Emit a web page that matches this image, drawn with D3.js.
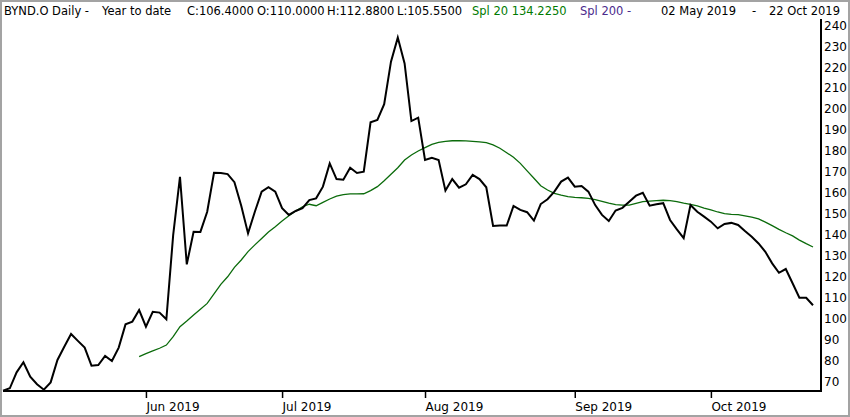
<!DOCTYPE html>
<html>
<head>
<meta charset="utf-8">
<script src="https://cdn.jsdelivr.net/npm/d3@7"></script>
<style>
  body { margin: 0; background: #fff; }
  svg { display: block; font-family: "DejaVu Sans", Verdana, sans-serif; }
</style>
</head>
<body>
<div id="chart"></div>
<script>
// daily closes, one per trading day, 02 May 2019 .. 22 Oct 2019
const close = [
  65.7, 66.8, 74.4, 79.2, 72.3, 68.7, 66.1, 69.6, 80.3, 86.6,
  92.7, 89.4, 86.2, 77.6, 77.9, 82.2, 79.8, 86.2, 97.3, 98.6,
  104.1, 96.2, 103.3, 102.9, 99.7, 139.9, 167.7, 125.9, 141.5, 141.4,
  151.0, 169.6, 169.5, 169.0, 165.1, 153.9, 140.7, 151.0, 160.6, 162.7,
  160.6, 152.7, 149.5, 151.4, 152.7, 156.6, 157.4, 163.0, 174.1, 166.6,
  166.3, 172.0, 169.5, 170.1, 193.7, 194.8, 202.3, 222.6, 234.1, 221.8,
  194.3, 195.9, 175.7, 176.8, 175.7, 161.1, 166.6, 162.5, 164.1, 168.6,
  166.6, 162.7, 144.2, 144.4, 144.4, 153.8, 151.9, 150.8, 146.8, 154.7,
  157.0, 160.6, 165.4, 167.3, 163.0, 163.3, 160.6, 154.2, 149.5, 146.6,
  151.6, 152.9, 155.8, 158.7, 160.1, 153.9, 154.6, 155.1, 147.1, 142.6,
  138.4, 154.2, 151.0, 148.7, 146.3, 143.1, 145.2, 145.7, 144.7, 141.8,
  139.1, 135.9, 131.9, 126.4, 121.9, 123.7, 116.9, 110.0, 110.0, 106.4
];

// Spl 20 line, starts at trading day 20
const smaStart = 20;
const sma20 = [
  81.9, 83.3, 84.6, 85.9, 87.4, 91.4, 96.2, 98.9, 101.8, 104.5,
  107.3, 111.8, 116.4, 120.0, 124.5, 128.0, 132.0, 135.2, 138.3, 141.4,
  143.9, 146.6, 149.1, 151.4, 153.4, 154.6, 153.9, 155.5, 157.1, 158.5,
  159.2, 159.5, 159.5, 159.6, 161.1, 163.0, 165.8, 168.9, 172.0, 175.7,
  178.1, 180.0, 181.6, 183.2, 184.1, 184.6, 184.9, 184.9, 184.8, 184.6,
  184.4, 184.0, 182.9, 181.3, 179.2, 177.0, 174.1, 170.5, 167.0, 163.4,
  161.4, 159.8, 158.9, 158.2, 157.9, 157.7, 157.4, 156.8, 156.0, 155.1,
  154.4, 154.2, 154.2, 155.0, 155.8, 156.1, 156.3, 156.5, 156.3, 155.8,
  155.1, 154.5, 153.8, 152.8, 151.9, 150.9, 150.1, 149.8, 149.6, 149.1,
  148.5, 147.6, 146.1, 144.4, 142.6, 141.0, 139.5, 137.5, 135.8, 134.2
];

// month ticks: trading-day index of first session of each month
const monthIdx = [21, 41, 62, 84, 104];
const monthLabels = ["Jun 2019", "Jul 2019", "Aug 2019", "Sep 2019", "Oct 2019"];

const yTicks = [70, 80, 90, 100, 110, 120, 130, 140, 150, 160, 170, 180, 190, 200, 210, 220, 230, 240];

// header readout
const ohlcKeys = ["C", "O", "H", "L"];
const ohlcVals = [106.4, 110.0, 112.88, 105.55];
const splLast = 134.225;

const width = 850;
const height = 417;
const plot = { left: 3, right: 821, top: 19, bottom: 391 };

const x = d3.scaleLinear()
  .domain([0, close.length - 1])
  .range([3, 813]);

const y = d3.scaleLinear()
  .domain([65.5, 242.5])
  .range([plot.bottom, 20]);

const svg = d3.select("#chart")
  .append("svg")
  .attr("width", width)
  .attr("height", height)
  .attr("viewBox", [0, 0, width, height]);

svg.append("rect")
  .attr("x", 1).attr("y", 1)
  .attr("width", width - 2).attr("height", height - 2)
  .attr("fill", "#fff")
  .attr("stroke", "#a3a3a3")
  .attr("stroke-width", 2);

// header
const header = svg.append("g").attr("font-size", "11.5px");
const hy = 15;
header.append("text").attr("x", 4).attr("y", hy).text("BYND.O Daily -");
header.append("text").attr("x", 102).attr("y", hy).text("Year to date");
const ohlcX = [187, 257, 327, 397];
ohlcKeys.forEach((k, i) => {
  header.append("text")
    .attr("x", ohlcX[i]).attr("y", hy)
    .text(`${k}:${ohlcVals[i].toFixed(4)}`);
});
header.append("text").attr("x", 472).attr("y", hy)
  .attr("fill", "#007a00")
  .text(`Spl 20 ${splLast.toFixed(4)}`);
header.append("text").attr("x", 580).attr("y", hy)
  .attr("fill", "#4b2a8c")
  .text("Spl 200 -");
header.append("text").attr("x", 661).attr("y", hy).text("02 May 2019");
header.append("text").attr("x", 752).attr("y", hy).text("-");
header.append("text").attr("x", 840).attr("y", hy)
  .attr("text-anchor", "end")
  .text("22 Oct 2019");

// x axis
const xAxis = svg.append("g")
  .attr("transform", `translate(0,${plot.bottom})`)
  .call(d3.axisBottom(x)
    .tickValues(monthIdx)
    .tickFormat((d, i) => monthLabels[i])
    .tickSize(7)
    .tickSizeOuter(0));
xAxis.select(".domain").remove();
xAxis.selectAll(".tick line").attr("stroke", "#000").attr("stroke-width", 1.5);
xAxis.selectAll(".tick text")
  .attr("text-anchor", "start")
  .attr("x", 0)
  .attr("y", 20)
  .attr("dy", null)
  .attr("font-size", "12px")
  .attr("font-family", "DejaVu Sans, sans-serif")
  .attr("fill", "#000");

// y axis on the right
const yAxis = svg.append("g")
  .attr("transform", `translate(${plot.right},0)`)
  .call(d3.axisRight(y)
    .tickValues(yTicks)
    .tickSize(0)
    .tickPadding(3));
yAxis.select(".domain").remove();
yAxis.selectAll(".tick text")
  .attr("font-size", "12px")
  .attr("font-family", "DejaVu Sans, sans-serif")
  .attr("fill", "#000");

// frame lines
svg.append("line")
  .attr("x1", plot.left).attr("x2", plot.right + 1)
  .attr("y1", plot.bottom).attr("y2", plot.bottom)
  .attr("stroke", "#000").attr("stroke-width", 2);
svg.append("line")
  .attr("x1", plot.right).attr("x2", plot.right)
  .attr("y1", plot.top).attr("y2", plot.bottom)
  .attr("stroke", "#000").attr("stroke-width", 2);

// Spl 20
const smaLine = d3.line()
  .x((d, i) => x(i + smaStart))
  .y(d => y(d));

svg.append("path")
  .datum(sma20)
  .attr("fill", "none")
  .attr("stroke", "#0b6b0b")
  .attr("stroke-width", 1.3)
  .attr("d", smaLine);

// price
const priceLine = d3.line()
  .x((d, i) => x(i))
  .y(d => y(d));

svg.append("path")
  .datum(close)
  .attr("fill", "none")
  .attr("stroke", "#000")
  .attr("stroke-width", 2)
  .attr("stroke-linejoin", "miter")
  .attr("d", priceLine);
</script>
</body>
</html>
